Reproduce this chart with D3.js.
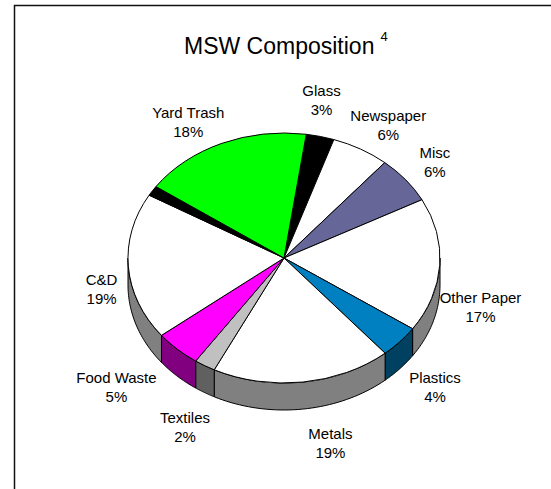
<!DOCTYPE html>
<html>
<head>
<meta charset="utf-8">
<script src="https://cdn.jsdelivr.net/npm/d3@7"></script>
<style>
  html, body { margin: 0; padding: 0; background: #fff; }
  svg { display: block; font-family: "Liberation Sans", Arial, sans-serif; }
</style>
</head>
<body>
<svg width="551" height="489"></svg>
<script>
// slices, clockwise from the top
var categories = ["Glass", "Newspaper", "Misc", "Other Paper", "Plastics", "Metals",
                  "Textiles", "Food Waste", "C&D", "", "Yard Trash"];
var values = [2.9, 6.0, 6.1, 17.3, 4.2, 18.6, 2.2, 4.8, 19.0, 1.3, 17.6];
var topColors = ["#000000", "#ffffff", "#666699", "#ffffff", "#0080c0", "#ffffff",
                 "#c0c0c0", "#ff00ff", "#ffffff", "#000000", "#00ff00"];
var sideColors = ["#000000", "#808080", "#333366", "#808080", "#004060", "#808080",
                  "#606060", "#800080", "#808080", "#000000", "#008000"];
// label nudges from the outside-end spot (px)
var labelNudge = [[-5, -9], [5, 0], [11, 0], [-8, 40], [10, 10], [24, 8],
                  [-3, 16], [-28, -1], [-3, 19], [0, 0], [-16, 4]];

var svg = d3.select("svg");

var cx = 284, cy = 258, rx = 156, ry = 125, depth = 27;
var startDeg = 8.2;
var a0 = startDeg * Math.PI / 180;

var pie = d3.pie()
    .sort(null)
    .value(function(d) { return d; })
    .startAngle(a0)
    .endAngle(a0 + 2 * Math.PI);

var slices = pie(values);

// frame
svg.append("rect")
    .attr("x", 14.5)
    .attr("y", 5.5)
    .attr("width", 600)
    .attr("height", 600)
    .attr("fill", "none")
    .attr("stroke", "#111")
    .attr("stroke-width", 1.5);

// title
var title = svg.append("text")
    .attr("x", 184)
    .attr("y", 54)
    .style("font-size", "23px")
    .attr("fill", "#000")
    .text("MSW Composition");
title.append("tspan")
    .attr("dx", 6)
    .attr("dy", -13)
    .style("font-size", "13px")
    .text("4");

function pt(t, dy) {
  return [cx + rx * Math.sin(t), cy - ry * Math.cos(t) + (dy || 0)];
}

// side walls, front half only
var line = d3.line();
slices.forEach(function(s, i) {
  var s0 = Math.max(s.startAngle, Math.PI / 2);
  var s1 = Math.min(s.endAngle, 3 * Math.PI / 2);
  if (s1 <= s0) return;
  var n = 40, pts = [];
  for (var k = 0; k <= n; k++) pts.push(pt(s0 + (s1 - s0) * k / n, 0));
  for (var k = n; k >= 0; k--) pts.push(pt(s0 + (s1 - s0) * k / n, depth));
  svg.append("path")
      .attr("d", line(pts) + "Z")
      .attr("fill", sideColors[i])
      .attr("stroke", "#000")
      .attr("stroke-width", 1)
      .attr("stroke-linejoin", "round");
});

// top surface
var arc = d3.arc().innerRadius(0).outerRadius(rx);
var topG = svg.append("g")
    .attr("transform", "translate(" + cx + "," + cy + ") scale(1," + (ry / rx) + ")");
topG.selectAll("path")
    .data(slices)
  .enter().append("path")
    .attr("d", arc)
    .attr("fill", function(d, i) { return topColors[i]; })
    .attr("stroke", "#000")
    .attr("stroke-width", 1)
    .attr("stroke-linejoin", "round")
    .attr("vector-effect", "non-scaling-stroke");

// labels
var total = d3.sum(values);
var labels = svg.append("g")
    .style("font-size", "15px")
    .attr("fill", "#000")
    .attr("text-anchor", "middle");

slices.forEach(function(s, i) {
  if (!categories[i]) return;
  var m = (s.startAngle + s.endAngle) / 2;
  var sm = Math.sin(m), cm = Math.cos(m);
  var px = cx + (rx + 8) * sm;
  var py = cy - (ry + 8) * cm + (cm < 0 ? -cm * depth : 0);
  var pct = Math.round(values[i] / total * 100) + "%";
  var t = labels.append("text");
  t.append("tspan").text(categories[i]);
  var w = t.node().getComputedTextLength();
  var lx = px + sm * w / 2 + labelNudge[i][0];
  var ly = py - cm * 19 + labelNudge[i][1];
  t.attr("x", lx).attr("y", ly - 5);
  t.select("tspan").attr("x", lx);
  t.append("tspan").attr("x", lx).attr("dy", 19).text(pct);
});
</script>
</body>
</html>
